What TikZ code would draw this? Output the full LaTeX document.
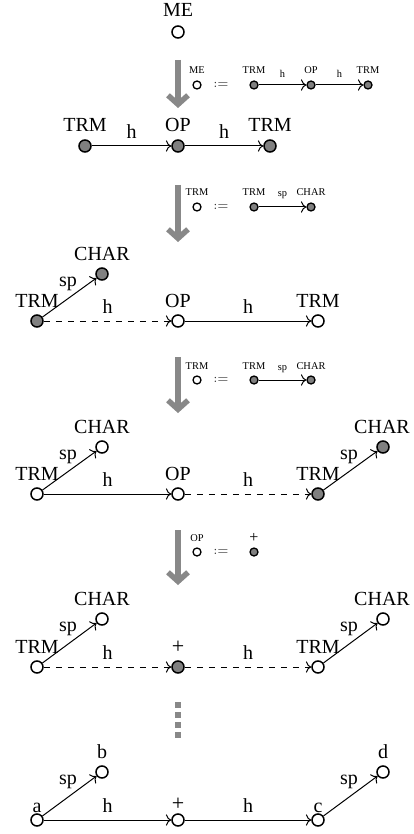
\documentclass[tikz,border=0pt]{standalone}
\usepackage{fontspec}
\setmainfont{Liberation Serif}
\usetikzlibrary{arrows.meta}
\definecolor{nodegray}{RGB}{128,128,128}
\definecolor{arrgray}{RGB}{136,136,136}
\begin{document}
\begin{tikzpicture}[x=0.5pt,y=-0.5pt,
  bigw/.style={circle, draw, line width=0.75pt, minimum size=6pt, inner sep=0pt, fill=white},
  bigg/.style={bigw, fill=nodegray},
  smw/.style={circle, draw, line width=0.65pt, minimum size=4pt, inner sep=0pt, fill=white},
  smg/.style={smw, fill=nodegray},
  biglbl/.style={anchor=base, inner sep=0pt, font=\fontsize{10}{12}\selectfont},
  smlbl/.style={anchor=base, inner sep=0pt, font=\fontsize{5.2}{6}\selectfont},
  edg/.style={->, line width=0.5pt},
  dedg/.style={edg, dashed},
  sedg/.style={->, line width=0.5pt},
  hl/.style={midway, anchor=base, inner sep=0pt, yshift=3.75pt, font=\fontsize{10}{12}\selectfont},
  spl/.style={midway, anchor=base, inner sep=0pt, yshift=5.75pt, xshift=-0.75pt, font=\fontsize{10}{12}\selectfont},
  shl/.style={midway, anchor=base, inner sep=0pt, yshift=3.5pt, font=\fontsize{5.2}{6}\selectfont},
  sspl/.style={midway, anchor=base, inner sep=0pt, yshift=5pt, font=\fontsize{5.2}{6}\selectfont},
  defl/.style={anchor=center, inner sep=0pt, text=black!80, font=\fontsize{5.8}{7}\selectfont},
  bigarr/.style={line width=2.75pt, draw=arrgray, -{Straight Barb[length=4.5pt,width=10pt]}},
  dotsline/.style={line width=3pt, draw=arrgray, dash pattern=on 3pt off 2pt}
]
\useasboundingbox (0,0) rectangle (413,834);

% ---- ME
\node[bigw] (me) at (178,32) {};
\node[biglbl] (mel) at (178,17) {ME};

% ---- step arrow 1 and legend
\coordinate (a1s) at (178,60); \coordinate (a1e) at (178,108);
\draw[bigarr] (a1s) -- (a1e);
\node[smw] (l1me) at (197,85) {};
\node[smlbl] (l1mel) at (197,74) {ME};
\node[defl] (l1def) at (221,85) {$:=$};
\node[smg] (l1t1) at (254,85) {};
\node[smg] (l1op) at (311,85) {};
\node[smg] (l1t2) at (368,85) {};
\node[smlbl] (l1t1l) at (254,74) {TRM};
\node[smlbl] (l1opl) at (311,74) {OP};
\node[smlbl] (l1t2l) at (368,74) {TRM};
\draw[sedg] (l1t1) -- node[shl]{h} (l1op);
\draw[sedg] (l1op) -- node[shl]{h} (l1t2);

% ---- row 1
\node[bigg] (t1a) at (85,146) {};
\node[bigg] (o1) at (178,146) {};
\node[bigg] (t1b) at (270,146) {};
\node[biglbl] (t1al) at (85,132) {TRM};
\node[biglbl] (o1l) at (178,132) {OP};
\node[biglbl] (t1bl) at (270,132) {TRM};
\draw[edg] (t1a) -- node[hl]{h} (o1);
\draw[edg] (o1) -- node[hl]{h} (t1b);

% ---- step arrow 2 and legend
\coordinate (a2s) at (178,185); \coordinate (a2e) at (178,242);
\draw[bigarr] (a2s) -- (a2e);
\node[smw] (l2t) at (197,207) {};
\node[smlbl] (l2tl) at (197,196) {TRM};
\node[defl] (l2def) at (221,207) {$:=$};
\node[smg] (l2t1) at (254,207) {};
\node[smg] (l2c) at (311,207) {};
\node[smlbl] (l2t1l) at (254,196) {TRM};
\node[smlbl] (l2cl) at (311,196) {CHAR};
\draw[sedg] (l2t1) -- node[sspl]{sp} (l2c);

% ---- row 2
\node[bigg] (t2a) at (37,321) {};
\node[bigw] (o2) at (178,321) {};
\node[bigw] (t2b) at (318,321) {};
\node[bigg] (c2a) at (102,274) {};
\node[biglbl] (t2al) at (37,307) {TRM};
\node[biglbl] (o2l) at (178,307) {OP};
\node[biglbl] (t2bl) at (318,307) {TRM};
\node[biglbl] (c2al) at (102,260) {CHAR};
\draw[dedg] (t2a) -- node[hl]{h} (o2);
\draw[edg] (o2) -- node[hl]{h} (t2b);
\draw[edg] (t2a) -- node[spl]{sp} (c2a);

% ---- step arrow 3 and legend
\coordinate (a3s) at (178,357); \coordinate (a3e) at (178,413);
\draw[bigarr] (a3s) -- (a3e);
\node[smw] (l3t) at (197,380) {};
\node[smlbl] (l3tl) at (197,369) {TRM};
\node[defl] (l3def) at (221,380) {$:=$};
\node[smg] (l3t1) at (254,380) {};
\node[smg] (l3c) at (311,380) {};
\node[smlbl] (l3t1l) at (254,369) {TRM};
\node[smlbl] (l3cl) at (311,369) {CHAR};
\draw[sedg] (l3t1) -- node[sspl]{sp} (l3c);

% ---- row 3
\node[bigw] (t3a) at (37,494) {};
\node[bigw] (o3) at (178,494) {};
\node[bigg] (t3b) at (318,494) {};
\node[bigw] (c3a) at (102,447) {};
\node[bigg] (c3b) at (383,447) {};
\node[biglbl] (t3al) at (37,480) {TRM};
\node[biglbl] (o3l) at (178,480) {OP};
\node[biglbl] (t3bl) at (318,480) {TRM};
\node[biglbl] (c3al) at (102,433) {CHAR};
\node[biglbl] (c3bl) at (382,433) {CHAR};
\draw[edg] (t3a) -- node[hl]{h} (o3);
\draw[dedg] (o3) -- node[hl]{h} (t3b);
\draw[edg] (t3a) -- node[spl]{sp} (c3a);
\draw[edg] (t3b) -- node[spl]{sp} (c3b);

% ---- step arrow 4 and legend
\coordinate (a4s) at (178,530); \coordinate (a4e) at (178,585);
\draw[bigarr] (a4s) -- (a4e);
\node[smw] (l4o) at (197,552) {};
\node[smlbl] (l4ol) at (197,541) {OP};
\node[defl] (l4def) at (221,552) {$:=$};
\node[smg] (l4p) at (254,552) {};
\node[smlbl, font=\fontsize{8}{9}\selectfont] (l4pl) at (254,542) {+};

% ---- row 4
\node[bigw] (t4a) at (37,667) {};
\node[bigg] (p4) at (178,667) {};
\node[bigw] (t4b) at (318,667) {};
\node[bigw] (c4a) at (102,619) {};
\node[bigw] (c4b) at (383,619) {};
\node[biglbl] (t4al) at (37,653) {TRM};
\node[biglbl, font=\fontsize{11}{12}\selectfont] (p4l) at (178,653) {+};
\node[biglbl] (t4bl) at (318,653) {TRM};
\node[biglbl] (c4al) at (102,605) {CHAR};
\node[biglbl] (c4bl) at (382,605) {CHAR};
\draw[dedg] (t4a) -- node[hl]{h} (p4);
\draw[dedg] (p4) -- node[hl]{h} (t4b);
\draw[edg] (t4a) -- node[spl]{sp} (c4a);
\draw[edg] (t4b) -- node[spl]{sp} (c4b);

% ---- dots
\coordinate (ds) at (178,702); \coordinate (de) at (178,738);
\draw[dotsline] (ds) -- (de);

% ---- row 5
\node[bigw] (na) at (37,820) {};
\node[bigw] (np) at (178,820) {};
\node[bigw] (nc) at (318,820) {};
\node[bigw] (nb) at (102,772) {};
\node[bigw] (nd) at (383,772) {};
\node[biglbl] (nal) at (37,812) {a};
\node[biglbl, font=\fontsize{11}{12}\selectfont] (npl) at (178,810) {+};
\node[biglbl] (ncl) at (318,812) {c};
\node[biglbl] (nbl) at (102,758) {b};
\node[biglbl] (ndl) at (383,758) {d};
\draw[edg] (na) -- node[hl]{h} (np);
\draw[edg] (np) -- node[hl]{h} (nc);
\draw[edg] (na) -- node[spl]{sp} (nb);
\draw[edg] (nc) -- node[spl]{sp} (nd);
\end{tikzpicture}
\end{document}
